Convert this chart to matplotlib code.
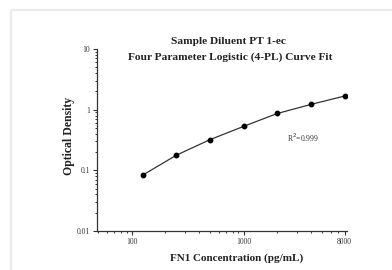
import matplotlib
matplotlib.use("Agg")
import matplotlib.pyplot as plt
from matplotlib.patches import Rectangle
from matplotlib.ticker import LogLocator, NullFormatter, FixedLocator, FixedFormatter

# standard curve points
conc = [125, 250, 500, 1000, 2000, 4000, 8000]
od = [0.083, 0.177, 0.32, 0.53, 0.865, 1.22, 1.68]

x_ticks = [100, 1000, 8000]
x_tick_labels = ["100", "1000", "8000"]
y_ticks = [0.01, 0.1, 1, 10]
y_tick_labels = ["0.01", "0.1", "1", "10"]

plt.rcParams["font.family"] = ["Liberation Serif", "DejaVu Serif"]

fig = plt.figure(figsize=(3.92, 2.70), dpi=100)
W, H = 392, 270

# light grey frame around the image
fig.patches.append(Rectangle((10.5 / W, -0.1), 1.0, (H - 9.5) / H + 0.1,
                             transform=fig.transFigure, fill=False,
                             edgecolor="#ebebeb", linewidth=1.6))

ax = fig.add_axes([97 / W, 1 - 231 / H, (347 - 97) / W, (231 - 49) / H])
ax.set_xscale("log")
ax.set_yscale("log")
ax.set_xlim(49, 8400)
ax.set_ylim(0.01, 10)

ax.plot(conc, od, color="#333333", linewidth=0.9, marker="o",
        markersize=3.2, markerfacecolor="black", markeredgecolor="black")

for s in ["top", "right"]:
    ax.spines[s].set_visible(False)
for s in ["left", "bottom"]:
    ax.spines[s].set_linewidth(0.9)
    ax.spines[s].set_color("#333333")

ax.xaxis.set_major_locator(FixedLocator(x_ticks))
ax.xaxis.set_major_formatter(FixedFormatter(x_tick_labels))
ax.xaxis.set_minor_locator(LogLocator(base=10, subs=range(2, 10), numticks=20))
ax.xaxis.set_minor_formatter(NullFormatter())
ax.yaxis.set_major_locator(FixedLocator(y_ticks))
ax.yaxis.set_major_formatter(FixedFormatter(y_tick_labels))
ax.yaxis.set_minor_locator(LogLocator(base=10, subs=range(2, 10), numticks=20))
ax.yaxis.set_minor_formatter(NullFormatter())

ax.tick_params(which="major", length=3, width=0.8, labelsize=5.5,
               colors="#333333", pad=2)
ax.tick_params(which="minor", length=1.5, width=0.7, colors="#333333")

ax.set_xlabel("FN1 Concentration (pg/mL)", fontsize=8, fontweight="bold",
              color="#222222")
ax.xaxis.set_label_coords(0.56, -0.125)
ax.set_ylabel("Optical Density", fontsize=8.5, fontweight="bold",
              color="#222222")
ax.yaxis.set_label_coords(-0.088, 0.52)

fig.text(228 / W, 1 - 42 / H, "Sample Diluent PT 1-ec", ha="center",
         va="center", fontsize=8.2, fontweight="bold", color="#222222")
fig.text(230 / W, 1 - 57 / H, "Four Parameter Logistic (4-PL) Curve Fit",
         ha="center", va="center", fontsize=8.2, fontweight="bold",
         color="#222222")

fig.text(303 / W, 1 - 138 / H, "R$^2$=0.999", ha="center", va="center",
         fontsize=5.5, color="#333333")

fig.savefig("out.png", dpi=100, facecolor="white")
